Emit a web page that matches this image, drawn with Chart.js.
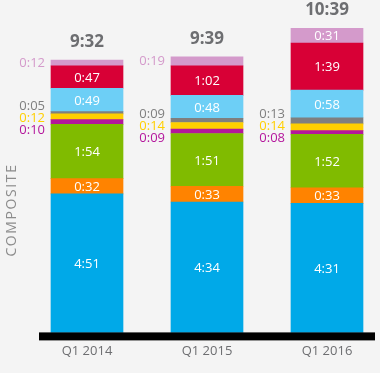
<!DOCTYPE html>
<html>
<head>
<meta charset="utf-8">
<script src="https://cdn.jsdelivr.net/npm/chart.js@4/dist/chart.umd.min.js"></script>
<style>
  html, body { margin: 0; padding: 0; background: #f4f4f4; }
  #wrap { width: 380px; height: 373px; }
</style>
</head>
<body>
<div id="wrap"><canvas id="c" width="380" height="373"></canvas></div>
<script>
// Categories
const categories = ['Q1 2014', 'Q1 2015', 'Q1 2016'];
// Minutes per day, bottom to top
const liveTV        = [291, 274, 271];
const timeShiftedTV = [32, 33, 33];
const radio         = [114, 111, 112];
const dvdBluRay     = [10, 9, 8];
const gameConsole   = [12, 14, 14];
const multimedia    = [5, 9, 13];
const internetPC    = [49, 48, 58];
const smartphone    = [47, 62, 99];
const tablet        = [12, 19, 31];

const seriesList = [
  { label: 'Live TV', data: liveTV, color: '#00a9e8' },
  { label: 'Time-shifted TV', data: timeShiftedTV, color: '#ff8300' },
  { label: 'AM/FM Radio', data: radio, color: '#80bb00' },
  { label: 'DVD/Blu-Ray', data: dvdBluRay, color: '#b4169c' },
  { label: 'Game Console', data: gameConsole, color: '#ffcf00' },
  { label: 'Multimedia Device', data: multimedia, color: '#7f7f7f' },
  { label: 'Internet on PC', data: internetPC, color: '#6dcff6' },
  { label: 'Smartphone', data: smartphone, color: '#d80036' },
  { label: 'Tablet', data: tablet, color: '#d49acb' }
];

function fmt(v) {
  const h = Math.floor(v / 60), m = v % 60;
  return h + ':' + (m < 10 ? '0' : '') + m;
}

const FONT = '"Open Sans", "Noto Sans", sans-serif';

const bgPlugin = {
  id: 'bg',
  beforeDraw(chart) {
    const ctx = chart.ctx;
    ctx.save();
    ctx.fillStyle = '#f4f4f4';
    ctx.fillRect(0, 0, chart.width, chart.height);
    ctx.restore();
  }
};

const labelPlugin = {
  id: 'labels',
  afterDatasetsDraw(chart) {
    const ctx = chart.ctx;
    const area = chart.chartArea;
    const nDs = chart.data.datasets.length;
    ctx.save();
    // baseline
    const first = chart.getDatasetMeta(0).data[0];
    const last = chart.getDatasetMeta(0).data[categories.length - 1];
    const x0 = first.x - first.width / 2 - 12;
    const x1 = last.x + last.width / 2 + 12;
    ctx.fillStyle = '#000';
    ctx.fillRect(x0, area.bottom, x1 - x0, 8);

    for (let i = 0; i < categories.length; i++) {
      let group = [];
      const flush = () => {
        if (!group.length) return;
        const top = group[0].el.y;
        const bottom = group[group.length - 1].el.base;
        const center = (top + bottom) / 2;
        const n = group.length;
        group.forEach((g, k) => {
          const y = center + (k - (n - 1) / 2) * 12;
          ctx.font = '13px ' + FONT;
          ctx.fillStyle = g.color;
          ctx.textAlign = 'right';
          ctx.textBaseline = 'middle';
          ctx.fillText(fmt(g.v), g.el.x - g.el.width / 2 - 6, y);
        });
        group = [];
      };
      for (let d = nDs - 1; d >= 0; d--) {
        const el = chart.getDatasetMeta(d).data[i];
        const v = chart.data.datasets[d].data[i];
        const h = Math.abs(el.base - el.y);
        if (h >= 13) {
          flush();
          ctx.font = '13px ' + FONT;
          ctx.fillStyle = '#ffffff';
          ctx.textAlign = 'center';
          ctx.textBaseline = 'middle';
          ctx.fillText(fmt(v), el.x, (el.y + el.base) / 2 + 1);
        } else {
          group.push({ el, v, color: seriesList[d].color });
        }
      }
      flush();
      // totals
      let total = 0;
      for (let d = 0; d < nDs; d++) total += chart.data.datasets[d].data[i];
      const topEl = chart.getDatasetMeta(nDs - 1).data[i];
      ctx.font = 'bold 17px ' + FONT;
      ctx.fillStyle = '#6d6e71';
      ctx.textAlign = 'center';
      ctx.textBaseline = 'middle';
      ctx.fillText(fmt(total), topEl.x, topEl.y - 18);
    }
    // vertical title
    ctx.translate(12, 210);
    ctx.rotate(-Math.PI / 2);
    ctx.font = '14px ' + FONT;
    try { ctx.letterSpacing = '1.6px'; } catch (e) {}
    ctx.fillStyle = '#8c8c8c';
    ctx.textAlign = 'center';
    ctx.textBaseline = 'middle';
    ctx.fillText('COMPOSITE', 0, 0);
    ctx.restore();
  }
};

new Chart(document.getElementById('c'), {
  type: 'bar',
  data: {
    labels: categories,
    datasets: seriesList.map(s => ({
      label: s.label,
      data: s.data,
      backgroundColor: s.color,
      borderWidth: 0,
      barThickness: 72,
      clip: false
    }))
  },
  options: {
    responsive: false,
    animation: false,
    events: [],
    layout: { padding: { left: 87, right: 53, top: 4, bottom: 3 } },
    plugins: { legend: { display: false }, tooltip: { enabled: false } },
    scales: {
      x: {
        stacked: true,
        offset: false,
        grid: { display: false, drawTicks: false },
        border: { display: false },
        ticks: { color: '#6d6e71', font: { family: FONT, size: 13 }, padding: 11, maxRotation: 0 }
      },
      y: {
        stacked: true,
        display: false,
        min: 0,
        max: 690
      }
    }
  },
  plugins: [bgPlugin, labelPlugin]
});
</script>
</body>
</html>
